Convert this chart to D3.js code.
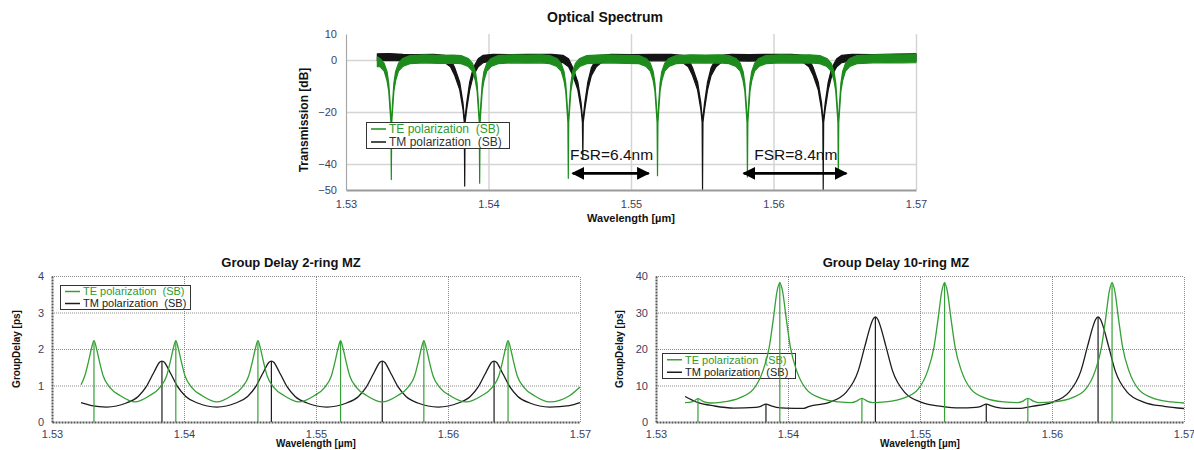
<!DOCTYPE html>
<html>
<head>
	<meta charset="utf-8">
	<script src="https://d3js.org/d3.v7.min.js"></script>
	<title>Optical Spectrum / Group Delay</title>
	<style>
		body { margin: 0; background: #fff; }
		text { font-family: "Liberation Sans", Arial, sans-serif; }
	</style>
</head>
<body>
<script type="text/javascript">

	/*------ data ------*/

	var xTicks = [1.53, 1.54, 1.55, 1.56, 1.57];
	var specTicks = [10, 0, -20, -40, -50];
	var specGrid = [0, -20, -40];
	var gd2Ticks = [0, 1, 2, 3, 4];
	var gd10Ticks = [0, 10, 20, 30, 40];

	var seriesNames = ['TE polarization  (SB)', 'TM polarization  (SB)'];

	// resonance wavelengths [um]
	var teRes = [1.53318, 1.53938, 1.5456, 1.55186, 1.55817, 1.56455];
	var tmRes = [1.53833, 1.54662, 1.55502, 1.56349];

	// optical spectrum: [wavelength, noise low dB, noise high dB]
	var teSpectrum = [
		[1.5322, -2.6, 1.2], [1.53238, -2.5, 0.6], [1.53268, -4.3, -1.3], [1.53288, -8, -4.5], [1.533, -12, -9],
		[1.5331, -20, -17], [1.53315, -24, -22], [1.53318, -46, -46], [1.53321, -24, -22], [1.53326, -20, -17],
		[1.53336, -12, -9], [1.53348, -8, -4.5], [1.53368, -4.3, -1.3], [1.53398, -2.5, 0.6], [1.53448, -1.4, 1.7],
		[1.5355, -1.1, 2.0], [1.5365, -1.3, 1.8], [1.5375, -1.2, 1.9], [1.53808, -1.4, 1.7],
		[1.53858, -2.5, 0.6], [1.53888, -4.3, -1.3], [1.53908, -8, -4.5], [1.5392, -12, -9], [1.5393, -20, -17],
		[1.53935, -24, -22], [1.53938, -47.4, -47.4], [1.53941, -24, -22], [1.53946, -20, -17], [1.53956, -12, -9],
		[1.53968, -8, -4.5], [1.53988, -4.3, -1.3], [1.54018, -2.5, 0.6], [1.54068, -1.4, 1.7],
		[1.5417, -1.1, 2.0], [1.5427, -1.2, 1.9], [1.5437, -1.1, 2.0], [1.5443, -1.4, 1.7],
		[1.5448, -2.5, 0.6], [1.5451, -4.3, -1.3], [1.5453, -8, -4.5], [1.54542, -12, -9], [1.54552, -20, -17],
		[1.54557, -24, -22], [1.5456, -45.5, -45.5], [1.54563, -24, -22], [1.54568, -20, -17], [1.54578, -12, -9],
		[1.5459, -8, -4.5], [1.5461, -4.3, -1.3], [1.5464, -2.5, 0.6], [1.5469, -1.4, 1.7],
		[1.5479, -1.1, 2.0], [1.5489, -1.2, 1.9], [1.55056, -1.4, 1.7],
		[1.55106, -2.5, 0.6], [1.55136, -4.3, -1.3], [1.55156, -8, -4.5], [1.55168, -12, -9], [1.55178, -20, -17],
		[1.55183, -24, -22], [1.55186, -44.5, -44.5], [1.55189, -24, -22], [1.55194, -20, -17], [1.55204, -12, -9],
		[1.55216, -8, -4.5], [1.55236, -4.3, -1.3], [1.55266, -2.5, 0.6], [1.55316, -1.4, 1.7],
		[1.5542, -1.1, 2.0], [1.5552, -1.2, 1.9], [1.5562, -1.1, 2.0], [1.55687, -1.4, 1.7],
		[1.55737, -2.5, 0.6], [1.55767, -4.3, -1.3], [1.55787, -8, -4.5], [1.55799, -12, -9], [1.55809, -20, -17],
		[1.55814, -24, -22], [1.55817, -45, -45], [1.5582, -24, -22], [1.55825, -20, -17], [1.55835, -12, -9],
		[1.55847, -8, -4.5], [1.55867, -4.3, -1.3], [1.55897, -2.5, 0.6], [1.55947, -1.4, 1.7],
		[1.5605, -1.1, 2.0], [1.5615, -1.2, 1.9], [1.5625, -1.1, 2.0], [1.56325, -1.4, 1.7],
		[1.56375, -2.5, 0.6], [1.56405, -4.3, -1.3], [1.56425, -8, -4.5], [1.56437, -12, -9], [1.56447, -20, -17],
		[1.56452, -24, -22], [1.56455, -45, -45], [1.56458, -24, -22], [1.56463, -20, -17], [1.56473, -12, -9],
		[1.56485, -8, -4.5], [1.56505, -4.3, -1.3], [1.56535, -2.5, 0.6], [1.56585, -1.4, 1.7],
		[1.567, -1.1, 2.0], [1.568, -1.0, 2.1], [1.569, -1.1, 2.0], [1.57, -1.0, 2.1]
	];

	var tmSpectrum = [
		[1.5322, -0.3, 2.4], [1.533, -0.2, 2.5], [1.534, -0.3, 2.2], [1.535, -0.4, 2.1], [1.53613, -0.3, 2.2],
		[1.53693, -1.0, 1.8], [1.53733, -2.6, 0.5], [1.53763, -6, -3], [1.53798, -11.5, -8.5], [1.53821, -19, -16.5],
		[1.5383, -24, -22], [1.53833, -48.5, -48.5], [1.53836, -24, -22], [1.53847, -19, -16.5], [1.53868, -11.5, -8.5],
		[1.53893, -6, -3], [1.53928, -2.6, 0.5], [1.53963, -1.0, 1.8], [1.54033, -0.3, 2.2],
		[1.5415, -0.4, 2.1], [1.5428, -0.3, 2.2], [1.54442, -0.3, 2.2],
		[1.54522, -1.0, 1.8], [1.54562, -2.6, 0.5], [1.54592, -6, -3], [1.54627, -11.5, -8.5], [1.5465, -19, -16.5],
		[1.54659, -24, -22], [1.54662, -38, -38], [1.54665, -24, -22], [1.54676, -19, -16.5], [1.54697, -11.5, -8.5],
		[1.54722, -6, -3], [1.54757, -2.6, 0.5], [1.54792, -1.0, 1.8], [1.54862, -0.3, 2.2],
		[1.55, -0.4, 2.1], [1.5515, -0.3, 2.2], [1.55282, -0.3, 2.2],
		[1.55362, -1.0, 1.8], [1.55402, -2.6, 0.5], [1.55432, -6, -3], [1.55467, -11.5, -8.5], [1.5549, -19, -16.5],
		[1.55499, -24, -22], [1.55502, -50, -50], [1.55505, -24, -22], [1.55516, -19, -16.5], [1.55537, -11.5, -8.5],
		[1.55562, -6, -3], [1.55597, -2.6, 0.5], [1.55632, -1.0, 1.8], [1.55702, -0.3, 2.2],
		[1.5583, -0.4, 2.1], [1.5597, -0.3, 2.2], [1.56129, -0.3, 2.2],
		[1.56209, -1.0, 1.8], [1.56249, -2.6, 0.5], [1.56279, -6, -3], [1.56314, -11.5, -8.5], [1.56337, -19, -16.5],
		[1.56346, -24, -22], [1.56349, -50, -50], [1.56352, -24, -22], [1.56363, -19, -16.5], [1.56384, -11.5, -8.5],
		[1.56409, -6, -3], [1.56444, -2.6, 0.5], [1.56479, -1.0, 1.8], [1.56549, -0.3, 2.2],
		[1.567, -0.4, 2.1], [1.5685, -0.3, 2.3], [1.57, -0.3, 2.4]
	];

	// group delay, 2-ring MZ [wavelength, ps]
	var teGd2 = [
		[1.5322, 1.02], [1.53248, 1.26], [1.53278, 1.68], [1.53298, 2.0], [1.53318, 2.23], [1.53338, 2.0], [1.53358, 1.68],
		[1.53388, 1.26], [1.53438, 0.95], [1.53518, 0.72], [1.53628, 0.55],
		[1.53738, 0.72], [1.53818, 0.95], [1.53868, 1.26], [1.53898, 1.68], [1.53918, 2.0], [1.53938, 2.23], [1.53958, 2.0],
		[1.53978, 1.68], [1.54008, 1.26], [1.54058, 0.95], [1.54138, 0.72], [1.54249, 0.55],
		[1.5436, 0.72], [1.5444, 0.95], [1.5449, 1.26], [1.5452, 1.68], [1.5454, 2.0], [1.5456, 2.23], [1.5458, 2.0],
		[1.546, 1.68], [1.5463, 1.26], [1.5468, 0.95], [1.5476, 0.72], [1.54873, 0.55],
		[1.54986, 0.72], [1.55066, 0.95], [1.55116, 1.26], [1.55146, 1.68], [1.55166, 2.0], [1.55186, 2.23], [1.55206, 2.0],
		[1.55226, 1.68], [1.55256, 1.26], [1.55306, 0.95], [1.55386, 0.72], [1.55501, 0.55],
		[1.55617, 0.72], [1.55697, 0.95], [1.55747, 1.26], [1.55777, 1.68], [1.55797, 2.0], [1.55817, 2.23], [1.55837, 2.0],
		[1.55857, 1.68], [1.55887, 1.26], [1.55937, 0.95], [1.56017, 0.72], [1.56136, 0.55],
		[1.56255, 0.72], [1.56335, 0.95], [1.56385, 1.26], [1.56415, 1.68], [1.56435, 2.0], [1.56455, 2.23], [1.56475, 2.0],
		[1.56495, 1.68], [1.56525, 1.26], [1.56575, 0.95], [1.56655, 0.72], [1.5677, 0.55], [1.5692, 0.72], [1.57, 0.96]
	];

	var tmGd2 = [
		[1.5322, 0.53], [1.533, 0.45], [1.53413, 0.41],
		[1.53563, 0.52], [1.53653, 0.70], [1.53713, 0.96], [1.53763, 1.30], [1.53793, 1.51], [1.53813, 1.63], [1.53833, 1.67],
		[1.53853, 1.63], [1.53873, 1.51], [1.53903, 1.30], [1.53953, 0.96], [1.54013, 0.70], [1.54103, 0.52], [1.54248, 0.41],
		[1.54392, 0.52], [1.54482, 0.70], [1.54542, 0.96], [1.54592, 1.30], [1.54622, 1.51], [1.54642, 1.63], [1.54662, 1.67],
		[1.54682, 1.63], [1.54702, 1.51], [1.54732, 1.30], [1.54782, 0.96], [1.54842, 0.70], [1.54932, 0.52], [1.55082, 0.41],
		[1.55232, 0.52], [1.55322, 0.70], [1.55382, 0.96], [1.55432, 1.30], [1.55462, 1.51], [1.55482, 1.63], [1.55502, 1.67],
		[1.55522, 1.63], [1.55542, 1.51], [1.55572, 1.30], [1.55622, 0.96], [1.55682, 0.70], [1.55772, 0.52], [1.55926, 0.41],
		[1.56079, 0.52], [1.56169, 0.70], [1.56229, 0.96], [1.56279, 1.30], [1.56309, 1.51], [1.56329, 1.63], [1.56349, 1.67],
		[1.56369, 1.63], [1.56389, 1.51], [1.56419, 1.30], [1.56469, 0.96], [1.56529, 0.70], [1.56619, 0.52], [1.5677, 0.41],
		[1.5692, 0.45], [1.57, 0.53]
	];

	// group delay, 10-ring MZ [wavelength, ps]
	var teGd10 = [
		[1.5322, 5.3], [1.5328, 5.6], [1.53318, 6.4], [1.5336, 5.6], [1.5342, 5.2], [1.53488, 5.4],
		[1.53638, 6.7], [1.53738, 9.0], [1.53808, 13.8], [1.53858, 20.5], [1.53888, 28.0], [1.53918, 36.0], [1.53938, 38.2],
		[1.53958, 36.0], [1.53988, 28.0], [1.54018, 20.5], [1.54068, 13.8], [1.54138, 9.0], [1.54238, 6.7], [1.54388, 5.5],
		[1.5448, 5.3], [1.5452, 5.7], [1.5456, 6.5], [1.546, 5.7], [1.5464, 5.3], [1.54736, 5.5],
		[1.54886, 6.7], [1.54986, 9.0], [1.55056, 13.8], [1.55106, 20.5], [1.55136, 28.0], [1.55166, 36.0], [1.55186, 38.2],
		[1.55206, 36.0], [1.55236, 28.0], [1.55266, 20.5], [1.55316, 13.8], [1.55386, 9.0], [1.55486, 6.7], [1.55636, 5.5],
		[1.5574, 5.3], [1.5578, 5.7], [1.55817, 6.5], [1.5586, 5.7], [1.559, 5.3], [1.56005, 5.5],
		[1.56155, 6.7], [1.56255, 9.0], [1.56325, 13.8], [1.56375, 20.5], [1.56405, 28.0], [1.56435, 36.0], [1.56455, 38.2],
		[1.56475, 36.0], [1.56505, 28.0], [1.56535, 20.5], [1.56585, 13.8], [1.56655, 9.0], [1.56755, 6.7], [1.56905, 5.5],
		[1.57, 5.2]
	];

	var tmGd10 = [
		[1.5322, 7.0], [1.5332, 5.3], [1.5344, 4.4], [1.5359, 3.8], [1.53753, 4.0], [1.53793, 4.3], [1.53833, 4.9],
		[1.53873, 4.4], [1.53913, 4.0], [1.5398, 3.8], [1.5412, 3.75],
		[1.54162, 4.3], [1.54312, 5.4], [1.54442, 8.2], [1.54532, 14.0], [1.54582, 20.7], [1.54622, 26.0], [1.54642, 28.0],
		[1.54662, 28.8], [1.54682, 28.0], [1.54702, 26.0], [1.54742, 20.7], [1.54792, 14.0], [1.54882, 8.2], [1.55012, 5.4],
		[1.55162, 4.3], [1.553, 3.85], [1.55422, 4.0], [1.55462, 4.3], [1.55502, 4.9], [1.55542, 4.4], [1.55582, 4.0],
		[1.5565, 3.75], [1.5575, 3.75],
		[1.55849, 4.3], [1.55999, 5.4], [1.56129, 8.2], [1.56219, 14.0], [1.56269, 20.7], [1.56309, 26.0], [1.56329, 28.0],
		[1.56349, 28.8], [1.56369, 28.0], [1.56389, 26.0], [1.56429, 20.7], [1.56479, 14.0], [1.56569, 8.2], [1.56699, 5.4],
		[1.56849, 4.3], [1.57, 3.7]
	];

	// FSR annotations on the spectrum: arrow ends [um], arrow level and text baseline [dB]
	var fsrNotes = [
		{ label: 'FSR=6.4nm', from: 1.54577, to: 1.55138, textAt: 1.54572 },
		{ label: 'FSR=8.4nm', from: 1.55777, to: 1.56525, textAt: 1.55865 }
	];
	var fsrArrowDb = -43.6;
	var fsrTextDb = -38.5;

	/*------ colours ------*/

	var teColor = '#1d8c1d';
	var tmColor = '#141414';
	var teLine = '#35a035';
	var tmLine = '#1c1c1c';
	var tickColor = '#3e3e5e';

	var svg = d3.select('body')
			.append('svg')
			.attr('width', 1194)
			.attr('height', 450);

	var defs = svg.append('defs');
	defs.append('marker')
		.attr('id', 'arrowHead')
		.attr('viewBox', '0 0 10 10')
		.attr('refX', 9).attr('refY', 5)
		.attr('markerWidth', 4.6).attr('markerHeight', 4.6)
		.attr('markerUnits', 'strokeWidth')
		.attr('orient', 'auto-start-reverse')
		.append('path')
		.attr('d', 'M0,0 L10,5 L0,10 Z')
		.attr('fill', '#000');

	renderSpectrum();
	renderGroupDelay({ left: 52, yMax: 4, ticks: gd2Ticks, te: teGd2, tm: tmGd2,
		title: 'Group Delay 2-ring MZ', titleX: 291, yLabelX: 16,
		legend: [60, 285, 130, 24], legendOnTop: true });
	renderGroupDelay({ left: 656, yMax: 40, ticks: gd10Ticks, te: teGd10, tm: tmGd10,
		title: 'Group Delay 10-ring MZ', titleX: 896, yLabelX: 619,
		legend: [662, 353, 133, 25], legendOnTop: false });

	function drawLegend(g, box, fontSize, colors, textColors) {
		var lg = g.append('g');
		lg.append('rect')
			.attr('x', box[0] + 0.5).attr('y', box[1] + 0.5)
			.attr('width', box[2]).attr('height', box[3])
			.attr('fill', '#fff')
			.attr('stroke', '#333')
			.attr('stroke-width', 1);
		var rowH = box[3] / 2;
		seriesNames.forEach(function (name, i) {
			var cy = box[1] + rowH * (i + 0.5) + 0.5;
			lg.append('line')
				.attr('x1', box[0] + 5).attr('x2', box[0] + 20)
				.attr('y1', cy).attr('y2', cy)
				.attr('stroke', colors[i]).attr('stroke-width', 1.5);
			lg.append('text')
				.attr('x', box[0] + 23).attr('y', cy)
				.attr('dy', '0.35em')
				.attr('font-size', fontSize)
				.attr('fill', textColors[i])
				.style('white-space', 'pre')
				.text(name);
		});
	}

	function renderSpectrum() {
		var x = d3.scaleLinear().domain([1.53, 1.57]).range([346, 916]);
		var y = d3.scaleLinear().domain([-50, 10]).range([190, 34]);
		var g = svg.append('g');

		// grid
		g.append('g')
			.attr('transform', 'translate(0,190)')
			.call(d3.axisBottom(x).tickValues(xTicks.slice(1)).tickSize(-156).tickFormat(''))
			.call(function (s) { s.select('.domain').remove(); })
			.selectAll('line').attr('stroke', '#d4d4d4').attr('stroke-width', 1.5);
		g.append('g')
			.attr('transform', 'translate(346,0)')
			.call(d3.axisLeft(y).tickValues(specGrid).tickSize(-570).tickFormat(''))
			.call(function (s) { s.select('.domain').remove(); })
			.selectAll('line').attr('stroke', '#d4d4d4').attr('stroke-width', 1.5);

		// noisy traces as filled bands
		var band = d3.area()
			.x(function (d) { return x(d[0]); })
			.y0(function (d) { return y(d[1]); })
			.y1(function (d) { return y(d[2]); });

		g.append('path').datum(tmSpectrum)
			.attr('d', band)
			.attr('fill', tmColor).attr('stroke', tmColor)
			.attr('stroke-width', 1.2).attr('stroke-linejoin', 'round');
		g.append('path').datum(teSpectrum)
			.attr('d', band)
			.attr('fill', teColor).attr('stroke', teColor)
			.attr('stroke-width', 1.2).attr('stroke-linejoin', 'round');

		// axes
		var xa = g.append('g')
			.attr('transform', 'translate(0,190)')
			.call(d3.axisBottom(x).tickValues(xTicks).tickSize(0).tickSizeOuter(0).tickPadding(10).tickFormat(d3.format('.2f')));
		xa.select('.domain').attr('stroke', '#9a9a9a').attr('stroke-width', 2.2);
		xa.selectAll('text').attr('font-size', 11).attr('fill', tickColor)
			.attr('font-family', '"Liberation Sans", Arial, sans-serif');

		var ya = g.append('g')
			.attr('transform', 'translate(346,0)')
			.call(d3.axisLeft(y).tickValues(specTicks).tickSize(0).tickSizeOuter(0).tickPadding(9));
		ya.select('.domain').attr('stroke', '#a8a8a8').attr('stroke-width', 1.2);
		ya.selectAll('text').attr('font-size', 11).attr('fill', tickColor)
			.attr('font-family', '"Liberation Sans", Arial, sans-serif');

		// FSR annotations
		fsrNotes.forEach(function (n) {
			g.append('line')
				.attr('x1', x(n.from) + 2).attr('x2', x(n.to) - 2)
				.attr('y1', y(fsrArrowDb)).attr('y2', y(fsrArrowDb))
				.attr('stroke', '#000').attr('stroke-width', 2.8)
				.attr('marker-start', 'url(#arrowHead)')
				.attr('marker-end', 'url(#arrowHead)');
			g.append('text')
				.attr('x', x(n.textAt)).attr('y', y(fsrTextDb))
				.attr('font-family', 'Lato, "Open Sans", sans-serif')
				.attr('font-size', 15.5)
				.attr('fill', '#111')
				.text(n.label);
		});

		drawLegend(g, [366, 122, 143, 26], 12, [teColor, tmColor], ['#2f9a2f', '#333']);

		// titles
		g.append('text').attr('x', 605).attr('y', 22).attr('text-anchor', 'middle')
			.attr('font-size', 14).attr('font-weight', 'bold').attr('fill', '#111')
			.text('Optical Spectrum');
		g.append('text').attr('x', 631).attr('y', 222).attr('text-anchor', 'middle')
			.attr('font-size', 11).attr('font-weight', 'bold').attr('fill', '#111')
			.text('Wavelength [µm]');
		g.append('text')
			.attr('transform', 'translate(308,120) rotate(-90)')
			.attr('text-anchor', 'middle')
			.attr('font-size', 12).attr('font-weight', 'bold').attr('fill', '#111')
			.text('Transmission [dB]');
	}

	function renderGroupDelay(cfg) {
		var x = d3.scaleLinear().domain([1.53, 1.57]).range([cfg.left, cfg.left + 528]);
		var y = d3.scaleLinear().domain([0, cfg.yMax]).range([422, 276]);
		var g = svg.append('g');

		// dotted grid
		g.append('g')
			.attr('transform', 'translate(0,422)')
			.call(d3.axisBottom(x).tickValues(xTicks.slice(1)).tickSize(-146).tickFormat(''))
			.call(function (s) { s.select('.domain').remove(); })
			.selectAll('line').attr('stroke', '#8a8a8a').attr('stroke-width', 1).attr('stroke-dasharray', '1,1');
		g.append('g')
			.attr('transform', 'translate(' + cfg.left + ',0)')
			.call(d3.axisLeft(y).tickValues(cfg.ticks.slice(1)).tickSize(-528).tickFormat(''))
			.call(function (s) { s.select('.domain').remove(); })
			.selectAll('line').attr('stroke', '#8a8a8a').attr('stroke-width', 1).attr('stroke-dasharray', '1,1');

		if (!cfg.legendOnTop) {
			drawLegend(g, cfg.legend, 11, [teLine, tmLine], ['#2f9a2f', '#222']);
		}

		var line = d3.line()
			.x(function (d) { return x(d[0]); })
			.y(function (d) { return y(d[1]); })
			.curve(d3.curveMonotoneX);

		function spikes(data, res, color) {
			g.selectAll(null)
				.data(res)
				.enter()
				.append('line')
				.attr('x1', function (r) { return x(r); })
				.attr('x2', function (r) { return x(r); })
				.attr('y1', y(0))
				.attr('y2', function (r) {
					var p = d3.least(data, function (d) { return Math.abs(d[0] - r); });
					return y(p[1]);
				})
				.attr('stroke', color)
				.attr('stroke-width', 1.2);
		}

		g.append('path').datum(cfg.tm)
			.attr('d', line).attr('fill', 'none')
			.attr('stroke', tmLine).attr('stroke-width', 1.3);
		spikes(cfg.tm, tmRes, tmLine);
		g.append('path').datum(cfg.te)
			.attr('d', line).attr('fill', 'none')
			.attr('stroke', teLine).attr('stroke-width', 1.3);
		spikes(cfg.te, teRes, teLine);

		if (cfg.legendOnTop) {
			drawLegend(g, cfg.legend, 11, [teLine, tmLine], ['#2f9a2f', '#222']);
		}

		// axes
		var xa = g.append('g')
			.attr('transform', 'translate(0,422)')
			.call(d3.axisBottom(x).tickValues(xTicks).tickSize(0).tickSizeOuter(0).tickPadding(8).tickFormat(d3.format('.2f')));
		xa.select('.domain').attr('stroke', '#555').attr('stroke-width', 2).attr('stroke-dasharray', '2,1');
		xa.selectAll('text').attr('font-size', 11).attr('fill', tickColor)
			.attr('font-family', '"Liberation Sans", Arial, sans-serif');

		var ya = g.append('g')
			.attr('transform', 'translate(' + cfg.left + ',0)')
			.call(d3.axisLeft(y).tickValues(cfg.ticks).tickSize(0).tickSizeOuter(0).tickPadding(8).tickFormat(d3.format('d')));
		ya.select('.domain').attr('stroke', '#555').attr('stroke-width', 2).attr('stroke-dasharray', '2,1');
		ya.selectAll('text').attr('font-size', 11).attr('fill', tickColor)
			.attr('font-family', '"Liberation Sans", Arial, sans-serif');

		// labels
		g.append('text').attr('x', cfg.titleX).attr('y', 267).attr('text-anchor', 'middle')
			.attr('font-size', 13).attr('font-weight', 'bold').attr('fill', '#111')
			.text(cfg.title);
		g.append('text').attr('x', cfg.left + 264).attr('y', 447).attr('text-anchor', 'middle')
			.attr('font-size', 10).attr('font-weight', 'bold').attr('fill', '#111')
			.text('Wavelength [µm]');
		g.append('text')
			.attr('transform', 'translate(' + cfg.yLabelX + ',349) rotate(-90)')
			.attr('text-anchor', 'middle')
			.attr('dy', '0.35em')
			.attr('font-size', 10).attr('font-weight', 'bold').attr('fill', '#111')
			.text('GroupDelay [ps]');
	}

</script>
</body>
</html>
